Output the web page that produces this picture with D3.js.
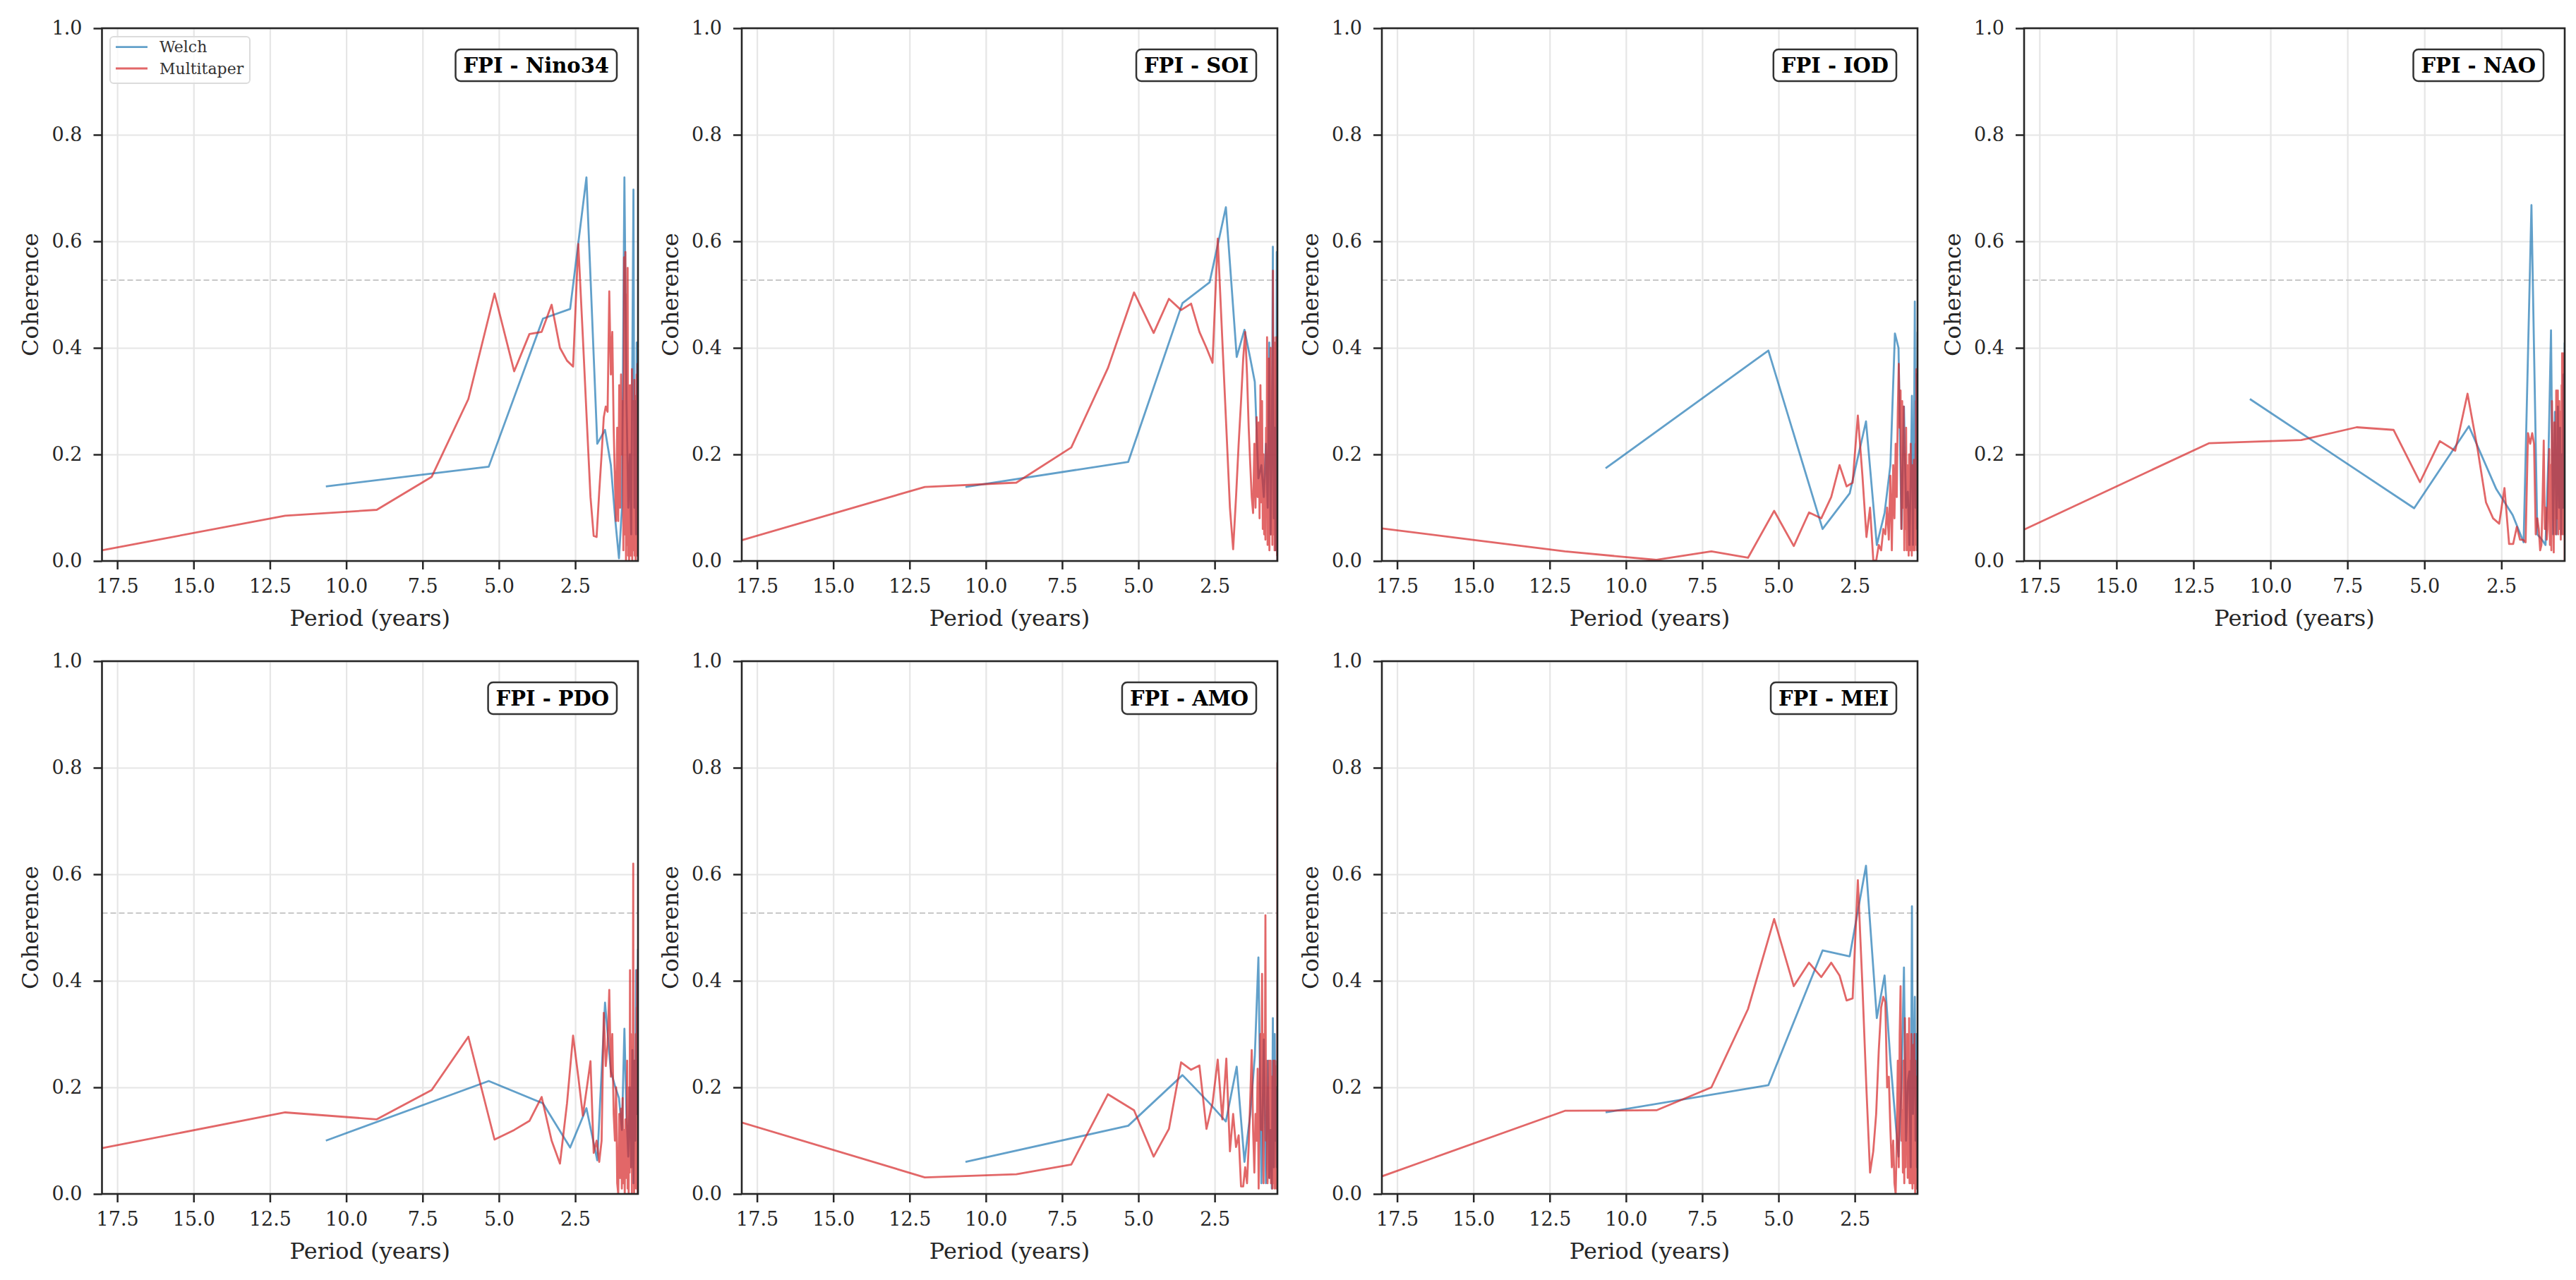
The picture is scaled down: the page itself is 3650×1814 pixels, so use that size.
<!DOCTYPE html>
<html lang="en">
<head>
<meta charset="utf-8">
<title>FPI coherence</title>
<script src="https://d3js.org/d3.v7.min.js"></script>
<style>
  body { margin: 0; background: #fff; }
  svg { display: block; }
</style>
</head>
<body>
<div id="chart"></div>
<script>
// periods (years) of the two spectral estimates
const welchPeriods = [10.667, 5.333, 3.556, 2.667, 2.133, 1.778, 1.524, 1.333, 1.185, 1.067,
  0.970, 0.889, 0.821, 0.762, 0.711, 0.667, 0.627, 0.593, 0.561, 0.533, 0.508, 0.485, 0.464, 0.444];

const mtPeriods = [18, 12, 9, 7.2, 6, 5.143, 4.5, 4, 3.6, 3.273,
  3, 2.769, 2.571, 2.4, 2.25, 2.118, 2, 1.895, 1.8, 1.714,
  1.636, 1.565, 1.5, 1.44, 1.385, 1.333, 1.286, 1.241, 1.2, 1.161,
  1.125, 1.091, 1.059, 1.029, 1, 0.973, 0.947, 0.923, 0.9, 0.878,
  0.857, 0.837, 0.818, 0.8, 0.783, 0.766, 0.75, 0.735, 0.72, 0.706,
  0.692, 0.679, 0.667, 0.655, 0.643, 0.632, 0.621, 0.61, 0.6, 0.59,
  0.581, 0.571, 0.563, 0.554, 0.545, 0.537, 0.529, 0.522, 0.514, 0.507,
  0.5, 0.493, 0.486, 0.48, 0.474, 0.468, 0.462, 0.456, 0.45, 0.444];

const panelTitles = ["FPI - Nino34", "FPI - SOI", "FPI - IOD", "FPI - NAO", "FPI - PDO", "FPI - AMO", "FPI - MEI"];

// Welch coherence
const welchNino34 = [0.140, 0.177, 0.455, 0.473, 0.720, 0.220, 0.246, 0.180, 0.075, 0.005, 0.100, 0.720, 0.300, 0.100, 0.200, 0.050, 0.400, 0.697, 0.100, 0.300, 0.050, 0.410, 0.200, 0.370];
const welchSOI = [0.139, 0.186, 0.484, 0.523, 0.664, 0.383, 0.434, 0.380, 0.336, 0.155, 0.180, 0.120, 0.220, 0.100, 0.410, 0.050, 0.200, 0.590, 0.080, 0.250, 0.020, 0.150, 0.580, 0.000];
const welchIOD = [0.174, 0.395, 0.060, 0.127, 0.262, 0.030, 0.090, 0.180, 0.427, 0.400, 0.060, 0.290, 0.100, 0.130, 0.030, 0.150, 0.310, 0.030, 0.200, 0.487, 0.100, 0.350, 0.060, 0.430];
const welchNAO = [0.304, 0.099, 0.253, 0.135, 0.086, 0.035, 0.668, 0.050, 0.040, 0.030, 0.200, 0.433, 0.050, 0.280, 0.050, 0.290, 0.100, 0.250, 0.050, 0.200, 0.100, 0.350, 0.100, 0.410];
const welchPDO = [0.100, 0.212, 0.170, 0.087, 0.161, 0.063, 0.359, 0.230, 0.200, 0.180, 0.120, 0.310, 0.150, 0.070, 0.200, 0.050, 0.270, 0.020, 0.250, 0.100, 0.420, 0.150, 0.300, 0.460];
const welchAMO = [0.060, 0.128, 0.223, 0.170, 0.136, 0.239, 0.060, 0.150, 0.258, 0.444, 0.020, 0.290, 0.020, 0.250, 0.030, 0.120, 0.010, 0.330, 0.050, 0.300, 0.100, 0.200, 0.050, 0.100];
const welchMEI = [0.153, 0.204, 0.457, 0.446, 0.616, 0.330, 0.410, 0.250, 0.150, 0.070, 0.200, 0.425, 0.100, 0.210, 0.230, 0.050, 0.540, 0.150, 0.250, 0.370, 0.100, 0.300, 0.050, 0.200];

// Multitaper coherence
const mtNino34 = [0.020, 0.085, 0.096, 0.158, 0.304, 0.502, 0.356, 0.426, 0.430, 0.481,
  0.400, 0.376, 0.365, 0.595, 0.420, 0.260, 0.120, 0.047, 0.045, 0.130,
  0.200, 0.270, 0.290, 0.280, 0.506, 0.350, 0.430, 0.250, 0.150, 0.075,
  0.250, 0.075, 0.330, 0.100, 0.350, 0.200, 0.300, 0.020, 0.570, 0.050,
  0.580, 0.000, 0.500, 0.030, 0.550, 0.010, 0.330, 0.000, 0.280, 0.060,
  0.330, 0.010, 0.260, 0.050, 0.360, 0.000, 0.220, 0.040, 0.300, 0.020,
  0.250, 0.050, 0.340, 0.010, 0.200, 0.030, 0.280, 0.000, 0.310, 0.040,
  0.230, 0.020, 0.350, 0.010, 0.270, 0.050, 0.370, 0.020, 0.300, 0.290];
const mtSOI = [0.039, 0.139, 0.147, 0.213, 0.362, 0.504, 0.428, 0.492, 0.471, 0.483,
  0.430, 0.400, 0.372, 0.605, 0.415, 0.250, 0.100, 0.022, 0.120, 0.220,
  0.300, 0.380, 0.430, 0.350, 0.250, 0.180, 0.120, 0.090, 0.220, 0.100,
  0.270, 0.120, 0.260, 0.080, 0.330, 0.110, 0.300, 0.060, 0.200, 0.050,
  0.150, 0.040, 0.250, 0.100, 0.420, 0.030, 0.300, 0.120, 0.380, 0.020,
  0.250, 0.080, 0.400, 0.050, 0.200, 0.150, 0.200, 0.030, 0.300, 0.545,
  0.050, 0.420, 0.250, 0.100, 0.380, 0.020, 0.300, 0.080, 0.410, 0.040,
  0.280, 0.100, 0.420, 0.020, 0.350, 0.060, 0.300, 0.010, 0.200, 0.000];
const mtIOD = [0.061, 0.018, 0.002, 0.018, 0.006, 0.094, 0.028, 0.091, 0.080, 0.120,
  0.180, 0.140, 0.147, 0.273, 0.160, 0.045, 0.100, 0.002, 0.000, 0.030,
  0.020, 0.060, 0.050, 0.100, 0.040, 0.160, 0.020, 0.180, 0.080, 0.220,
  0.120, 0.280, 0.370, 0.250, 0.320, 0.060, 0.300, 0.100, 0.290, 0.020,
  0.200, 0.060, 0.250, 0.020, 0.180, 0.100, 0.140, 0.010, 0.200, 0.050,
  0.150, 0.020, 0.220, 0.080, 0.120, 0.010, 0.180, 0.030, 0.150, 0.060,
  0.100, 0.020, 0.190, 0.050, 0.120, 0.020, 0.080, 0.150, 0.030, 0.220,
  0.060, 0.300, 0.100, 0.360, 0.050, 0.200, 0.020, 0.300, 0.100, 0.360];
const mtNAO = [0.059, 0.221, 0.227, 0.251, 0.246, 0.148, 0.225, 0.207, 0.314, 0.210,
  0.110, 0.080, 0.070, 0.137, 0.032, 0.032, 0.064, 0.040, 0.040, 0.035,
  0.240, 0.220, 0.240, 0.220, 0.050, 0.080, 0.060, 0.020, 0.030, 0.120,
  0.226, 0.060, 0.100, 0.040, 0.060, 0.150, 0.210, 0.030, 0.180, 0.020,
  0.300, 0.080, 0.150, 0.016, 0.260, 0.100, 0.200, 0.050, 0.320, 0.120,
  0.250, 0.080, 0.320, 0.050, 0.220, 0.150, 0.300, 0.060, 0.240, 0.100,
  0.280, 0.040, 0.200, 0.120, 0.330, 0.070, 0.390, 0.100, 0.250, 0.050,
  0.300, 0.150, 0.360, 0.080, 0.390, 0.120, 0.280, 0.050, 0.200, 0.000];
const mtPDO = [0.086, 0.153, 0.140, 0.195, 0.295, 0.102, 0.120, 0.137, 0.182, 0.100,
  0.057, 0.170, 0.297, 0.220, 0.147, 0.200, 0.249, 0.077, 0.100, 0.060,
  0.100, 0.340, 0.240, 0.280, 0.383, 0.220, 0.300, 0.150, 0.100, 0.200,
  0.020, 0.000, 0.150, 0.030, 0.160, 0.010, 0.180, 0.020, 0.120, 0.000,
  0.140, 0.030, 0.100, 0.250, 0.010, 0.150, 0.000, 0.200, 0.040, 0.420,
  0.100, 0.300, 0.050, 0.250, 0.000, 0.180, 0.050, 0.350, 0.620, 0.100,
  0.220, 0.000, 0.150, 0.080, 0.250, 0.020, 0.180, 0.060, 0.300, 0.010,
  0.220, 0.100, 0.350, 0.030, 0.420, 0.080, 0.250, 0.000, 0.300, 0.410];
const mtAMO = [0.134, 0.031, 0.037, 0.055, 0.187, 0.157, 0.070, 0.122, 0.247, 0.233,
  0.241, 0.122, 0.170, 0.252, 0.140, 0.254, 0.080, 0.150, 0.088, 0.110,
  0.014, 0.014, 0.050, 0.020, 0.090, 0.180, 0.270, 0.120, 0.040, 0.150,
  0.100, 0.235, 0.010, 0.180, 0.300, 0.120, 0.413, 0.150, 0.020, 0.300,
  0.200, 0.523, 0.100, 0.250, 0.050, 0.020, 0.200, 0.120, 0.250, 0.030,
  0.180, 0.060, 0.250, 0.020, 0.150, 0.100, 0.220, 0.010, 0.160, 0.080,
  0.250, 0.020, 0.200, 0.050, 0.120, 0.010, 0.250, 0.100, 0.180, 0.020,
  0.150, 0.060, 0.240, 0.010, 0.100, 0.200, 0.050, 0.250, 0.100, 0.810];
const mtMEI = [0.033, 0.156, 0.157, 0.200, 0.347, 0.516, 0.390, 0.434, 0.407, 0.434,
  0.410, 0.363, 0.367, 0.589, 0.390, 0.196, 0.040, 0.080, 0.150, 0.270,
  0.350, 0.370, 0.360, 0.200, 0.220, 0.120, 0.050, 0.100, 0.020, 0.000,
  0.100, 0.250, 0.050, 0.300, 0.390, 0.100, 0.157, 0.040, 0.250, 0.020,
  0.330, 0.050, 0.200, 0.080, 0.300, 0.030, 0.220, 0.100, 0.330, 0.020,
  0.250, 0.060, 0.180, 0.020, 0.300, 0.080, 0.220, 0.010, 0.150, 0.050,
  0.280, 0.020, 0.200, 0.100, 0.300, 0.040, 0.180, 0.000, 0.250, 0.060,
  0.200, 0.020, 0.150, 0.080, 0.220, 0.010, 0.180, 0.050, 0.120, 0.180];

const welchSeries = [welchNino34, welchSOI, welchIOD, welchNAO, welchPDO, welchAMO, welchMEI];
const mtSeries = [mtNino34, mtSOI, mtIOD, mtNAO, mtPDO, mtAMO, mtMEI];

const xTickValues = [17.5, 15.0, 12.5, 10.0, 7.5, 5.0, 2.5];
const yTickValues = [0.0, 0.2, 0.4, 0.6, 0.8, 1.0];
const xDomain = [18.0, 0.444];
const sigLevel = 0.527;

// layout (pixels)
const W = 3650, H = 1814;
const colLeft = [144.5, 1051, 1958, 2868];
const colWidth = [759.5, 759, 759, 766];
const rowTop = [40, 937];
const rowHeight = 755;

const FONT = "'DejaVu Serif', serif";
const welchColor = "#1f77b4";
const mtColor = "#d62728";

const svg = d3.select("#chart").append("svg")
  .attr("width", W)
  .attr("height", H)
  .style("background", "#fff");

var drawPanel = function(i) {
  let col = i % 4, row = Math.floor(i / 4);
  let left = colLeft[col], top = rowTop[row];
  let w = colWidth[col], h = rowHeight;

  let x = d3.scaleLinear().domain(xDomain).range([0, w]);
  let y = d3.scaleLinear().domain([0, 1]).range([h, 0]);

  let g = svg.append("g").attr("transform", `translate(${left},${top})`);

  g.append("clipPath").attr("id", "clip" + i)
    .append("rect").attr("width", w).attr("height", h);

  // grid
  let gridX = g.append("g").attr("transform", `translate(0,${h})`)
    .call(d3.axisBottom(x).tickValues(xTickValues).tickSize(-h).tickFormat(""));
  let gridY = g.append("g")
    .call(d3.axisLeft(y).tickValues(yTickValues).tickSize(-w).tickFormat(""));
  [gridX, gridY].forEach(a => {
    a.select(".domain").remove();
    a.selectAll("line").attr("stroke", "#e6e6e6").attr("stroke-width", 2.2);
  });

  let plot = g.append("g").attr("clip-path", `url(#clip${i})`);

  // significance level
  plot.append("line")
    .attr("x1", 0).attr("x2", w)
    .attr("y1", y(sigLevel)).attr("y2", y(sigLevel))
    .attr("stroke", "#c8c8c8").attr("stroke-width", 2)
    .attr("stroke-dasharray", "8,4");

  let line = d3.line().x(d => x(d[0])).y(d => y(d[1]));

  plot.append("path")
    .datum(d3.zip(welchPeriods, welchSeries[i]))
    .attr("d", line)
    .attr("fill", "none")
    .attr("stroke", welchColor).attr("stroke-opacity", 0.7)
    .attr("stroke-width", 2.8).attr("stroke-linejoin", "round");

  plot.append("path")
    .datum(d3.zip(mtPeriods, mtSeries[i]))
    .attr("d", line)
    .attr("fill", "none")
    .attr("stroke", mtColor).attr("stroke-opacity", 0.7)
    .attr("stroke-width", 2.8).attr("stroke-linejoin", "round");

  // axes with ticks
  let xAxis = g.append("g").attr("transform", `translate(0,${h})`)
    .call(d3.axisBottom(x).tickValues(xTickValues).tickSize(12).tickPadding(14)
      .tickFormat(d3.format(".1f")));
  let yAxis = g.append("g")
    .call(d3.axisLeft(y).tickValues(yTickValues).tickSize(12).tickPadding(16)
      .tickFormat(d3.format(".1f")));
  [xAxis, yAxis].forEach(a => {
    a.select(".domain").remove();
    a.selectAll("line").attr("stroke", "#262626").attr("stroke-width", 2.5);
    a.selectAll("text").attr("fill", "#262626")
      .style("font-family", FONT).style("font-size", "27px");
  });

  // frame
  g.append("rect").attr("width", w).attr("height", h)
    .attr("fill", "none").attr("stroke", "#262626").attr("stroke-width", 2.6);

  // axis labels
  g.append("text")
    .attr("x", w / 2).attr("y", h + 92)
    .attr("text-anchor", "middle")
    .style("font-family", FONT).style("font-size", "32px").attr("fill", "#262626")
    .text("Period (years)");

  g.append("text")
    .attr("transform", `translate(-90.5,${h / 2})rotate(-90)`)
    .attr("text-anchor", "middle")
    .style("font-family", FONT).style("font-size", "32px").attr("fill", "#262626")
    .text("Coherence");

  // title box
  let tg = g.append("g");
  let tt = tg.append("text")
    .style("font-family", FONT).style("font-size", "29px").style("font-weight", "bold")
    .attr("fill", "#000")
    .attr("text-anchor", "end")
    .attr("x", w - 41).attr("y", 52 + 10.5)
    .text(panelTitles[i]);
  let tw = tt.node().getComputedTextLength();
  tg.insert("rect", "text")
    .attr("x", w - 30 - tw - 22).attr("y", 30)
    .attr("width", tw + 22).attr("height", 45)
    .attr("rx", 7).attr("ry", 7)
    .attr("fill", "#fff").attr("stroke", "#333").attr("stroke-width", 2.5);

  // legend on the first panel only
  if (i === 0) {
    let lg = g.append("g").attr("transform", "translate(11.5,12)");
    lg.append("rect").attr("width", 198).attr("height", 66)
      .attr("rx", 5).attr("ry", 5)
      .attr("fill", "#fff").attr("fill-opacity", 0.8)
      .attr("stroke", "#dcdcdc").attr("stroke-width", 2);
    [["Welch", welchColor, 14.6], ["Multitaper", mtColor, 45]].forEach(e => {
      lg.append("line").attr("x1", 8).attr("x2", 53).attr("y1", e[2]).attr("y2", e[2])
        .attr("stroke", e[1]).attr("stroke-opacity", 0.7).attr("stroke-width", 2.8);
      lg.append("text").attr("x", 70).attr("y", e[2] + 7.5)
        .style("font-family", FONT).style("font-size", "22px").attr("fill", "#333")
        .text(e[0]);
    });
  }
}

for (let i = 0; i < panelTitles.length; i++) {
  drawPanel(i);
}
</script>
</body>
</html>
